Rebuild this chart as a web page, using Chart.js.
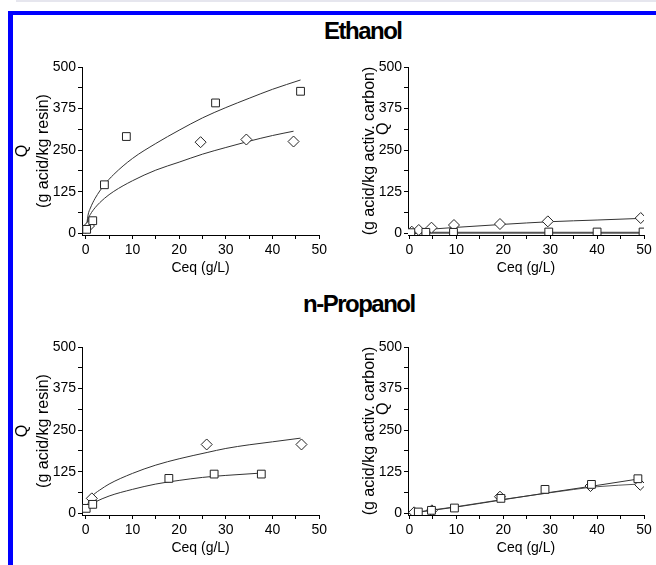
<!DOCTYPE html>
<html>
<head>
<meta charset="utf-8">
<script src="https://cdn.jsdelivr.net/npm/chart.js@4"></script>
<style>
  body { margin: 0; background: #fff; }
  #wrap { position: relative; width: 656px; height: 565px; overflow: hidden; background: #fff; }
  .strip { position: absolute; }
  .head { position: absolute; font: bold 24px "Liberation Sans", Arial, sans-serif; letter-spacing: -1.5px; color: #000; white-space: nowrap; }
  .box { position: absolute; }
</style>
</head>
<body>
<div id="wrap">
  <div class="strip" style="left:16px;top:0;width:640px;height:2px;background:#e6e6ee"></div>
  <div class="strip" style="left:8px;top:11px;width:648px;height:4px;background:#0000ff"></div>
  <div class="strip" style="left:8px;top:11px;width:5px;height:554px;background:#0000ff"></div>
  <div class="head" style="left:324px;top:17px">Ethanol</div>
  <div class="head" style="left:303px;top:290px">n-Propanol</div>
  <div class="box" style="left:0;top:40px"><canvas id="c1" width="330" height="250"></canvas></div>
  <div class="box" style="left:328px;top:40px"><canvas id="c2" width="328" height="250"></canvas></div>
  <div class="box" style="left:0;top:320px"><canvas id="c3" width="330" height="250"></canvas></div>
  <div class="box" style="left:328px;top:320px"><canvas id="c4" width="328" height="250"></canvas></div>
</div>
<script>
// Ethanol - resin
const etResinSqX = [0.2, 1.5, 4.0, 8.7, 27.8, 46.0];
const etResinSqY = [12, 38, 146, 291, 392, 427];
const etResinDiX = [0.7, 24.6, 34.4, 44.5];
const etResinDiY = [22, 274, 282, 276];
const etResinSqFitX = [0, 0.5, 1, 2, 4, 6, 10, 15, 20, 25, 30, 35, 40, 46];
const etResinSqFitY = [0, 55, 76, 105, 146, 177, 225, 270, 310, 347, 378, 406, 433, 461];
const etResinDiFitX = [0, 0.5, 1, 2, 4, 6, 10, 15, 20, 25, 30, 35, 40, 44.5];
const etResinDiFitY = [0, 42, 57, 77, 105, 126, 158, 190, 214, 238, 258, 277, 294, 307];

// Ethanol - activated carbon
const etCarbonSqX = [0.3, 3.5, 9.4, 29.7, 40.0, 49.8];
const etCarbonSqY = [2, 3, 3, 4, 4, 4];
const etCarbonDiX = [0.5, 2.0, 4.7, 9.5, 19.3, 29.5, 49.3];
const etCarbonDiY = [5, 10, 17, 25, 28, 36, 46];
const etCarbonSqFitX = [0, 10, 20, 30, 40, 50];
const etCarbonSqFitY = [1, 2, 2, 2, 2, 2];
const etCarbonDiFitX = [0, 10, 20, 30, 40, 49.5];
const etCarbonDiFitY = [8, 18, 27, 35, 40, 45];

// n-Propanol - resin
const prResinSqX = [0.1, 1.5, 17.8, 27.5, 37.6];
const prResinSqY = [15, 27, 105, 118, 118];
const prResinDiX = [1.3, 25.9, 46.2];
const prResinDiY = [45, 207, 207];
const prResinSqFitX = [0, 1, 2, 5, 10, 15, 20, 25, 30, 37.5];
const prResinSqFitY = [15, 26, 34, 52, 72, 88, 99, 108, 114, 121];
const prResinDiFitX = [0, 0.5, 1, 2, 3, 5, 10, 15, 20, 26, 30, 35, 40, 46];
const prResinDiFitY = [10, 30, 45, 60, 70, 88, 120, 145, 164, 183, 195, 206, 215, 226];

// n-Propanol - activated carbon
const prCarbonSqX = [1.9, 4.7, 9.6, 19.5, 28.9, 38.8, 48.7];
const prCarbonSqY = [4, 9, 16, 45, 72, 87, 104];
const prCarbonDiX = [1.0, 4.8, 19.3, 38.6, 49.2];
const prCarbonDiY = [3, 9, 50, 82, 86];
const prCarbonSqFitX = [0, 10, 20, 30, 40, 48.7];
const prCarbonSqFitY = [0, 19, 41, 63, 84, 103];
const prCarbonDiFitX = [0, 10, 20, 30, 40, 49];
const prCarbonDiFitY = [1, 20, 42, 62, 80, 88];

// tick positions (major + minor) and which ones get a label
const yTickVals = [0, 62.5, 125, 187.5, 250, 312.5, 375, 437.5, 500];
const yTickLabels = [0, 125, 250, 375, 500];
const xTickVals = [0, 5, 10, 15, 20, 25, 30, 35, 40, 45, 50];
const xTickLabels = [0, 10, 20, 30, 40, 50];
const resinTitle = ["Q", "(g acid/kg resin)"];
const carbonTitle = ["(g acid/kg activ. carbon)", "          Q"];

const FONT = "'Liberation Sans', Arial, sans-serif";

function pts(xs, ys) {
  return xs.map((x, i) => ({ x: x, y: ys[i] }));
}

function markers(xs, ys, style) {
  return {
    data: pts(xs, ys),
    showLine: false,
    pointStyle: style,
    pointRadius: 5.5,
    pointBackgroundColor: "#fff",
    pointBorderColor: "#222",
    pointBorderWidth: 1,
  };
}

function curve(xs, ys, color, width) {
  return {
    data: pts(xs, ys),
    showLine: true,
    pointRadius: 0,
    borderColor: color,
    borderWidth: width,
    tension: 0.4,
    cubicInterpolationMode: "monotone",
  };
}

function panel(id, p) {
  new Chart(document.getElementById(id), {
    type: "scatter",
    data: { datasets: p.datasets },
    options: {
      responsive: false,
      animation: false,
      devicePixelRatio: 1,
      layout: { padding: { left: 0, top: 27, right: p.padRight, bottom: 0 } },
      plugins: { legend: { display: false }, tooltip: { enabled: false } },
      scales: {
        x: {
          type: "linear",
          min: p.xMin,
          max: 50,
          afterFit: (s) => { s.height = 55; },
          afterBuildTicks: (s) => { s.ticks = xTickVals.map((v) => ({ value: v })); },
          border: { display: true, color: "#000", width: 1 },
          grid: { drawOnChartArea: false, drawTicks: true, tickLength: 4, tickColor: "#000" },
          ticks: {
            padding: 3,
            color: "#000",
            font: { family: FONT, size: 14 },
            maxRotation: 0,
            autoSkip: false,
            callback: (v) => (xTickLabels.includes(v) ? String(v) : ""),
          },
          title: {
            display: true,
            text: "Ceq (g/L)",
            color: "#000",
            font: { family: FONT, size: 14 },
            padding: { top: 0, bottom: 13 },
          },
        },
        y: {
          type: "linear",
          min: -5,
          max: 500,
          afterFit: (s) => { s.width = p.yWidth; },
          afterBuildTicks: (s) => { s.ticks = yTickVals.map((v) => ({ value: v })); },
          border: { display: true, color: "#000", width: 1 },
          grid: { drawOnChartArea: false, drawTicks: true, tickLength: 4, tickColor: "#000" },
          ticks: {
            padding: 2,
            color: "#000",
            font: { family: FONT, size: 14 },
            autoSkip: false,
            callback: (v) => (yTickLabels.includes(v) ? String(v) : ""),
          },
          title: {
            display: true,
            text: p.yTitle,
            color: "#000",
            font: { family: FONT, size: 16, lineHeight: p.titleLine },
            padding: { top: p.titlePad, bottom: 0 },
          },
        },
      },
    },
  });
}

panel("c1", {
  xMin: -0.8, padRight: 8, yWidth: 82, yTitle: resinTitle, titleLine: 1.3, titlePad: 12,
  datasets: [
    markers(etResinSqX, etResinSqY, "rect"),
    markers(etResinDiX, etResinDiY, "rectRot"),
    curve(etResinSqFitX, etResinSqFitY, "#333", 1),
    curve(etResinDiFitX, etResinDiFitY, "#333", 1),
  ],
});

panel("c2", {
  xMin: -0.3, padRight: 12, yWidth: 80, yTitle: carbonTitle, titleLine: 0.9, titlePad: 34,
  datasets: [
    markers(etCarbonSqX, etCarbonSqY, "rect"),
    markers(etCarbonDiX, etCarbonDiY, "rectRot"),
    curve(etCarbonSqFitX, etCarbonSqFitY, "#555", 2),
    curve(etCarbonDiFitX, etCarbonDiFitY, "#333", 1),
  ],
});

panel("c3", {
  xMin: -0.8, padRight: 8, yWidth: 82, yTitle: resinTitle, titleLine: 1.3, titlePad: 12,
  datasets: [
    markers(prResinSqX, prResinSqY, "rect"),
    markers(prResinDiX, prResinDiY, "rectRot"),
    curve(prResinSqFitX, prResinSqFitY, "#333", 1),
    curve(prResinDiFitX, prResinDiFitY, "#333", 1),
  ],
});

panel("c4", {
  xMin: -0.3, padRight: 12, yWidth: 80, yTitle: carbonTitle, titleLine: 0.9, titlePad: 34,
  datasets: [
    markers(prCarbonSqX, prCarbonSqY, "rect"),
    markers(prCarbonDiX, prCarbonDiY, "rectRot"),
    curve(prCarbonSqFitX, prCarbonSqFitY, "#333", 1),
    curve(prCarbonDiFitX, prCarbonDiFitY, "#555", 1),
  ],
});
</script>
</body>
</html>
